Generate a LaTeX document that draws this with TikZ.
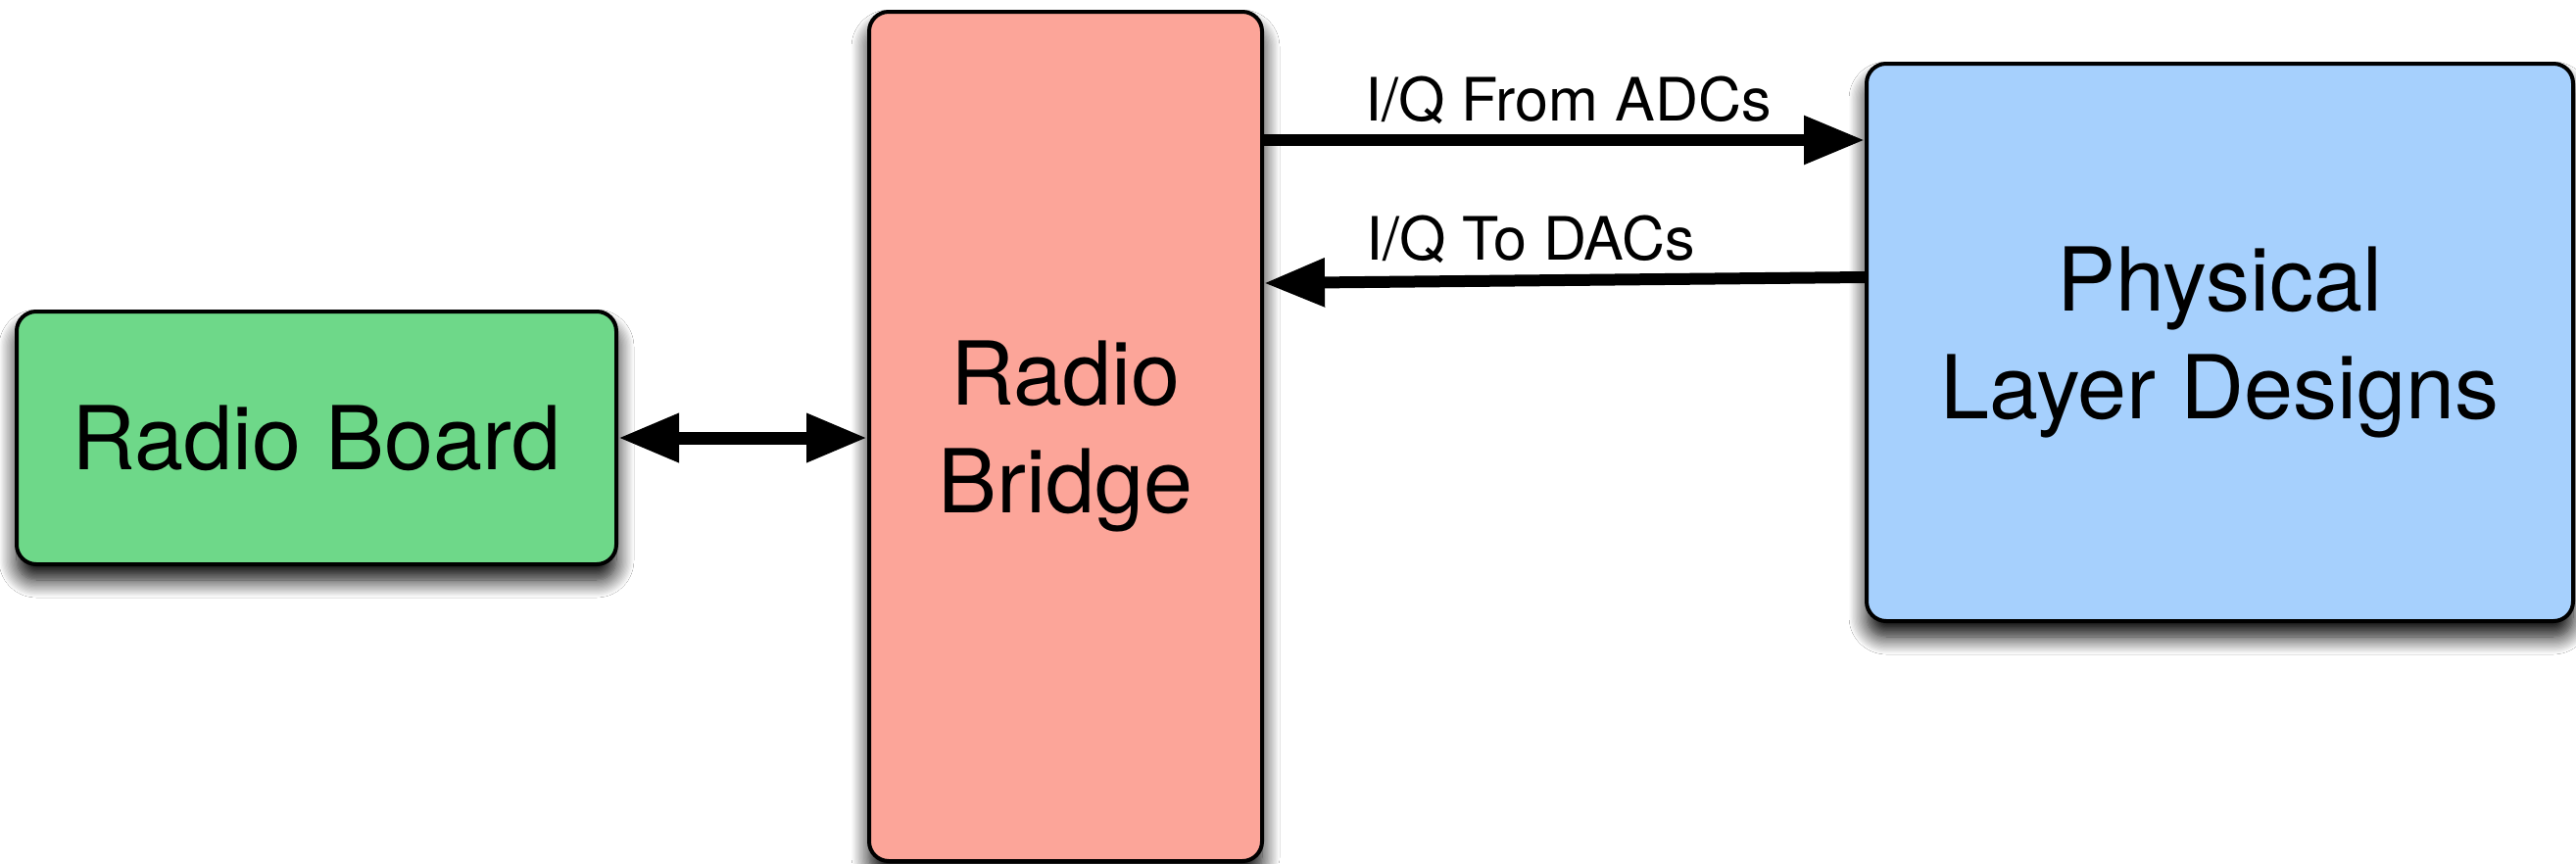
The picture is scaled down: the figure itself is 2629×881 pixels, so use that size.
\documentclass[tikz,border=0pt]{standalone}
\usepackage{fontspec}
\setmainfont{TeX Gyre Heros}
\usetikzlibrary{arrows.meta,shadows.blur,calc}
\definecolor{boardgreen}{RGB}{110,216,137}
\definecolor{bridgepink}{RGB}{252,165,153}
\definecolor{pldblue}{RGB}{166,208,253}
\begin{document}
\begin{tikzpicture}[x=1pt,y=-1pt,
  block/.style={draw=black, line width=4pt, rounded corners=20pt, inner sep=0pt,
    align=center, font=\fontsize{90}{110}\selectfont,
    blur shadow={shadow xshift=0pt, shadow yshift=-16pt, shadow blur radius=18pt,
      shadow blur steps=14, shadow opacity=100}},
  conn/.style={line width=12pt, -{Triangle[length=62pt,width=47pt]}},
  biconn/.style={line width=13pt, {Triangle[length=62pt,width=47pt]}-{Triangle[length=62pt,width=47pt]}},
  lbl/.style={font=\fontsize{61}{73}\selectfont, anchor=base west, inner sep=0pt}]
\useasboundingbox (0,0) rectangle (2629,881);
\fill[white] (0,0) rectangle (2629,881);
\node[block, fill=boardgreen, minimum width=612pt, minimum height=258pt] (board) at (323,447) {Radio Board};
\node[block, fill=bridgepink, minimum width=401pt, minimum height=867pt] (bridge) at (1087.5,445.5) {Radio\\Bridge};
\node[block, fill=pldblue, minimum width=721pt, minimum height=569pt] (pld) at (2265.5,349.5) {Physical\\Layer Designs};
\coordinate (a1) at (0,143);
\draw[biconn] (board.east) -- (board.east -| bridge.west);
\draw[conn] (a1 -| bridge.east) -- (a1 -| pld.west);
\coordinate (a2s) at ($(pld.west)+(0,-66.5)$);
\coordinate (a2e) at ($(bridge.east)+(0,-156.5)$);
\draw[conn] (a2s) -- (a2e);
\node[lbl] (lblfrom) at (1393,123) {I/Q From ADCs};
\node[lbl] (lblto) at (1394,265) {I/Q To DACs};
\end{tikzpicture}
\end{document}
